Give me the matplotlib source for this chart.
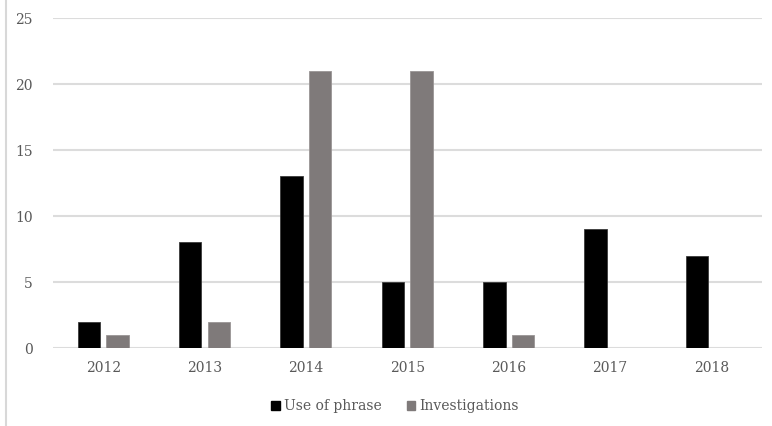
import matplotlib
matplotlib.use("Agg")
import matplotlib.pyplot as plt
import numpy as np
from matplotlib.lines import Line2D
from matplotlib.patches import Patch

years = ["2012", "2013", "2014", "2015", "2016", "2017", "2018"]
use_of_phrase = [2, 8, 13, 5, 5, 9, 7]
investigations = [1, 2, 21, 21, 1, 0, 0]
y_ticks = [0, 5, 10, 15, 20, 25]

black = "#000000"
gray = "#7f7a7a"
text_color = "#595959"
grid_color = "#dcdcdc"

plt.rcParams["font.family"] = ["DejaVu Serif"]

fig = plt.figure(figsize=(7.72, 4.26), dpi=100)
ax = fig.add_axes([52.5 / 772, 1 - 348 / 426, (762 - 52.5) / 772, (348 - 18) / 426])

x = np.arange(len(years))
w = 0.222
gap = 0.06
ax.bar(x - (w + gap) / 2, use_of_phrase, width=w, color=black,
       edgecolor="#3a3a3a", linewidth=0.6, zorder=3, label="Use of phrase")
ax.bar(x + (w + gap) / 2, investigations, width=w, color=gray,
       edgecolor="#9a9595", linewidth=0.6, zorder=3, label="Investigations")

ax.set_xlim(-0.5, len(years) - 0.5)
ax.set_ylim(0, 25)
ax.set_yticks(y_ticks)
ax.set_xticks(x)
ax.set_xticklabels(years)
ax.yaxis.grid(True, color=grid_color, linewidth=1.5, zorder=0)
ax.set_axisbelow(True)
for s in ax.spines.values():
    s.set_visible(False)
ax.tick_params(axis="both", length=0, labelsize=10, colors=text_color)
ax.tick_params(axis="y", pad=14)
ax.tick_params(axis="x", pad=9)

handles = [Patch(facecolor=black, edgecolor=black, label="Use of phrase"),
           Patch(facecolor=gray, edgecolor=gray, label="Investigations")]
leg = fig.legend(handles=handles, loc="center", bbox_to_anchor=(395 / 772, 1 - 406 / 426),
                 ncol=2, frameon=False, fontsize=10, handlelength=0.6, handleheight=0.6,
                 handletextpad=0.3, columnspacing=1.8)
for t in leg.get_texts():
    t.set_color(text_color)

# left frame edge
fig.add_artist(Line2D([5.5 / 772, 5.5 / 772], [0, 1], transform=fig.transFigure,
                      color="#d8d8d8", linewidth=1.5))

fig.savefig("out.png", dpi=100, facecolor="white")
